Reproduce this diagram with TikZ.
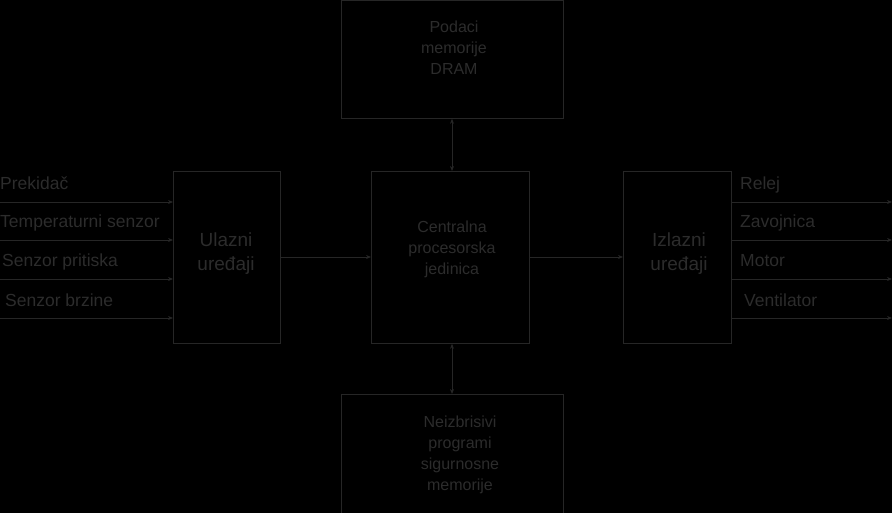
\documentclass[tikz,border=0pt]{standalone}
\usepackage{fontspec}
\setmainfont{Liberation Sans}
\usetikzlibrary{arrows.meta}
\definecolor{ln}{HTML}{262626}
\definecolor{tx}{HTML}{2C2C2C}
\begin{document}
\begin{tikzpicture}[x=1pt,y=-1pt,
  box/.style={draw=ln,line width=0.8pt,inner sep=0pt,anchor=north west},
  arr/.style={draw=ln,line width=0.8pt,-{Stealth[length=5pt,width=4pt]}},
  txt/.style={text=tx,align=center,font=\fontsize{16}{21}\selectfont},
  big/.style={text=tx,align=center,font=\fontsize{19}{24}\selectfont},
  lbl/.style={text=tx,font=\fontsize{17.5}{20}\selectfont,anchor=base west,inner sep=0pt}]
\fill[black] (0,0) rectangle (892,513);
\useasboundingbox (0,0) rectangle (892,513);
\node[box,minimum width=222,minimum height=118] (dram) at (341,0) {};
\node[txt] at (454,48) {Podaci\\memorije\\DRAM};
\node[box,minimum width=222,minimum height=119] (nvm) at (341,394) {};
\node[txt] at (460,455) {Neizbrisivi\\programi\\sigurnosne\\memorije};
\node[box,minimum width=107,minimum height=172] (in) at (173,171) {};
\node[big] at (226,254) {Ulazni\\uređaji};
\node[box,minimum width=158,minimum height=172] (cpu) at (371,171) {};
\node[txt] at (452,249) {Centralna\\procesorska\\jedinica};
\node[box,minimum width=108,minimum height=172] (out) at (623,171) {};
\node[big] at (679,254) {Izlazni\\uređaji};
\foreach \y/\t/\xo in {202/Prekidač/0,240/Temperaturni senzor/0,279/Senzor pritiska/2,318/Senzor brzine/5}{
  \coordinate (s\y) at (0,\y);
  \draw[arr] (s\y) -- (in.west |- s\y);
  \node[lbl] at (\xo,\y-12) {\t};
}
\foreach \y/\t/\xo in {202/Relej/740,240/Zavojnica/740,279/Motor/740,318/Ventilator/744}{
  \coordinate (e\y) at (892,\y);
  \draw[arr] (out.east |- e\y) -- (e\y);
  \node[lbl] at (\xo,\y-12) {\t};
}
\coordinate (m) at (0,257);
\draw[arr] (in.east |- m) -- (cpu.west |- m);
\draw[arr] (cpu.east |- m) -- (out.west |- m);
\coordinate (v) at (452,0);
\draw[arr,{Stealth[length=5pt,width=4pt]}-{Stealth[length=5pt,width=4pt]}] (dram.south -| v) -- (cpu.north -| v);
\draw[arr,{Stealth[length=5pt,width=4pt]}-{Stealth[length=5pt,width=4pt]}] (cpu.south -| v) -- (nvm.north -| v);
\end{tikzpicture}
\end{document}
